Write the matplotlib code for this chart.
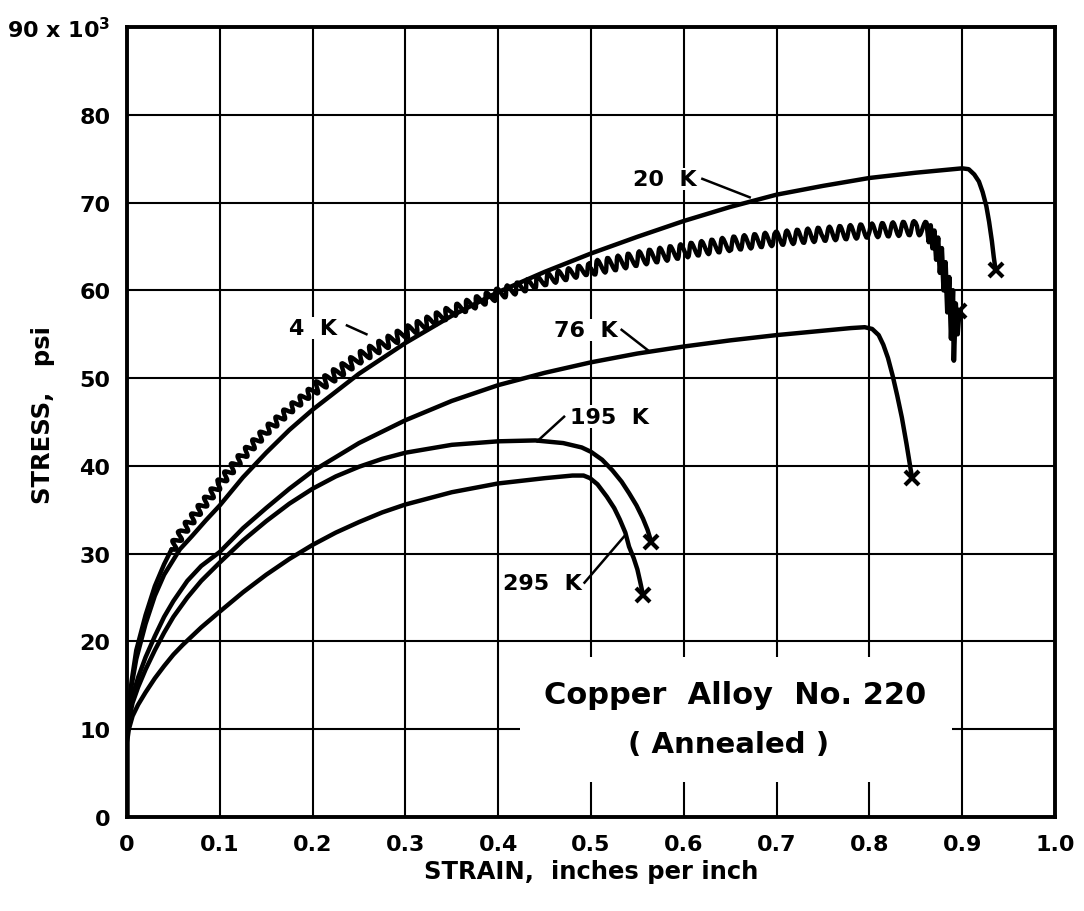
import numpy as np
import matplotlib.pyplot as plt
from matplotlib.patches import Rectangle

plt.rcParams['font.family'] = ['DejaVu Sans']
plt.rcParams['font.weight'] = 'bold'
plt.rcParams['axes.labelweight'] = 'bold'
plt.rcParams['mathtext.default'] = 'bf'

# curves (strain, stress in ksi)
x_295 = [0, 0, 0.002, 0.006, 0.012, 0.02, 0.03, 0.04, 0.05, 0.06, 0.08, 0.1, 0.125, 0.15, 0.175,
         0.2, 0.225, 0.25, 0.275, 0.3, 0.35, 0.4, 0.45, 0.48, 0.492,
         0.499, 0.507, 0.517, 0.525, 0.531, 0.537, 0.541, 0.546, 0.55, 0.553, 0.556]
y_295 = [0, 8.5, 10, 11.5, 12.8, 14.2, 15.8, 17.2, 18.5, 19.6, 21.6, 23.4, 25.6, 27.6, 29.4,
         31.0, 32.4, 33.6, 34.7, 35.6, 37.0, 38.0, 38.6, 38.9, 38.9,
         38.6, 37.9, 36.5, 35.2, 33.9, 32.4, 30.8, 29.5, 28.2, 26.8, 25.3]

x_195 = [0, 0, 0.002, 0.006, 0.012, 0.02, 0.03, 0.04, 0.05, 0.065, 0.08, 0.1, 0.125, 0.15, 0.175,
         0.2, 0.225, 0.25, 0.275, 0.3, 0.35, 0.4, 0.44, 0.47, 0.49,
         0.5, 0.512, 0.523, 0.533, 0.541, 0.549, 0.556, 0.561, 0.565]
y_195 = [0, 9, 11, 13, 14.8, 16.8, 19, 21, 22.8, 25, 26.9, 29.0, 31.5, 33.7, 35.7,
         37.4, 38.8, 39.9, 40.8, 41.5, 42.4, 42.8, 42.9, 42.6, 42.1,
         41.6, 40.7, 39.5, 38.2, 36.9, 35.5, 34.0, 32.7, 31.3]

x_76 = [0, 0, 0.002, 0.006, 0.012, 0.02, 0.03, 0.04, 0.05, 0.065, 0.08, 0.1, 0.125, 0.15, 0.175,
        0.2, 0.25, 0.3, 0.35, 0.4, 0.45, 0.5, 0.55, 0.6, 0.65, 0.7, 0.75, 0.78, 0.795,
        0.803, 0.81, 0.815, 0.82, 0.825, 0.83, 0.835, 0.84, 0.846]
y_76 = [0, 9, 11.5, 13.8, 15.9, 18.2, 20.6, 22.8, 24.6, 26.9, 28.6, 30.2, 32.9, 35.2, 37.4,
        39.4, 42.6, 45.2, 47.4, 49.2, 50.6, 51.8, 52.8, 53.6, 54.3, 54.9, 55.4, 55.7, 55.8,
        55.6, 54.9, 53.8, 52.3, 50.3, 48.0, 45.5, 42.5, 38.6]

x_20 = [0, 0, 0.002, 0.005, 0.01, 0.02, 0.03, 0.04, 0.057, 0.07, 0.085, 0.1, 0.125, 0.15, 0.175,
        0.2, 0.25, 0.3, 0.35, 0.4, 0.45, 0.5, 0.55, 0.6, 0.65, 0.7, 0.75, 0.8, 0.85, 0.89,
        0.9, 0.907, 0.913, 0.918, 0.922, 0.926, 0.929, 0.932, 0.934, 0.936]
y_20 = [0, 9, 12.5, 15, 18, 22, 25.2, 27.6, 30.5, 32.0, 33.8, 35.5, 38.7, 41.5, 44.1,
        46.4, 50.5, 54.0, 57.1, 59.8, 62.1, 64.2, 66.1, 67.9, 69.5, 70.9, 71.9, 72.8, 73.4, 73.8,
        73.9, 73.8, 73.2, 72.4, 71.2, 69.6, 67.8, 65.6, 63.8, 62.3]

# 4 K: smooth start, serrated middle (centre line), jagged drop at the end
x_4a = [0, 0, 0.002, 0.005, 0.01, 0.02, 0.03, 0.04, 0.048]
y_4a = [0, 9, 12.5, 15.5, 19, 23, 26.3, 28.8, 30.5]
x_4b = [0.048, 0.06, 0.075, 0.1, 0.125, 0.15, 0.175, 0.2]
y_4b = [30.5, 32.5, 34.6, 38.0, 41.2, 44.0, 46.4, 48.6]
x_4c = [0.2, 0.25, 0.3, 0.35, 0.4, 0.45, 0.5]
y_4c = [48.6, 52.3, 55.2, 57.6, 59.6, 61.2, 62.5]
x_4d = [0.5, 0.55, 0.6, 0.65, 0.7, 0.75, 0.8, 0.85, 0.862]
y_4d = [62.5, 63.6, 64.5, 65.3, 65.9, 66.4, 66.8, 67.1, 67.0]
x_4e = [0.862, 0.864, 0.866, 0.868, 0.870, 0.872, 0.874, 0.876, 0.878, 0.880, 0.882, 0.884,
        0.886, 0.888, 0.890, 0.891, 0.893, 0.895, 0.897]
y_4e = [67.3, 65.5, 67.4, 64.8, 66.8, 63.5, 66.0, 62.0, 64.8, 60.0, 63.2, 57.5,
        61.5, 54.5, 60.0, 52.0, 58.5, 55.0, 57.7]

labels = ['4  K', '20  K', '76  K', '195  K', '295  K']
label_pos = [(0.2, 55.7), (0.58, 72.7), (0.494, 55.5), (0.52, 45.6), (0.448, 26.7)]
leaders = [((0.237, 56.0), (0.258, 55.0)),
           ((0.620, 72.7), (0.671, 70.6)),
           ((0.533, 55.5), (0.561, 53.2)),
           ((0.471, 45.6), (0.442, 42.8)),
           ((0.493, 26.7), (0.536, 32.0))]

xticks = [0, 0.1, 0.2, 0.3, 0.4, 0.5, 0.6, 0.7, 0.8, 0.9, 1.0]
xtick_labels = ['0', '0.1', '0.2', '0.3', '0.4', '0.5', '0.6', '0.7', '0.8', '0.9', '1.0']
yticks = [0, 10, 20, 30, 40, 50, 60, 70, 80, 90]
ytick_labels = ['0', '10', '20', '30', '40', '50', '60', '70', '80', r'90 x 10$^{3}$']

fig = plt.figure(figsize=(10.84, 9.12), dpi=100)
ax = fig.add_axes([127 / 1084, 94 / 912, 928 / 1084, 790 / 912])
ax.set_xlim(0, 1.0)
ax.set_ylim(0, 90)
ax.set_axisbelow(True)
ax.grid(True, color='black', lw=1.5)
for s in ax.spines.values():
    s.set_linewidth(2.8)
ax.set_xticks(xticks)
ax.set_xticklabels(xtick_labels)
ax.set_yticks(yticks)
ax.set_yticklabels(ytick_labels)
ax.tick_params(length=0, pad=12, labelsize=16)
ax.set_xlabel('STRAIN,  inches per inch', fontsize=17.5, labelpad=4)
ax.set_ylabel('STRESS,   psi', fontsize=17.5)
ax.yaxis.set_label_coords(-0.078, 0.51)

lw = 3.2
for xs, ys in [(x_295, y_295), (x_195, y_195), (x_76, y_76), (x_20, y_20)]:
    ax.plot(xs, ys, color='black', lw=lw, solid_capstyle='round', solid_joinstyle='round', zorder=4)
    ax.plot(xs[-1], ys[-1], marker='x', ms=10, mew=3, color='black', zorder=5)

ax.plot(x_4a, y_4a, color='black', lw=lw, solid_capstyle='round', solid_joinstyle='round', zorder=4)
for xs, ys, amp in [(x_4b, y_4b, 4), (x_4c, y_4c, 5.5), (x_4d, y_4d, 7)]:
    serr, = ax.plot(xs, ys, color='black', lw=lw, solid_capstyle='round', zorder=4)
    serr.set_sketch_params(scale=amp, length=10.5, randomness=1)
ax.plot(x_4e, y_4e, color='black', lw=3.4, solid_joinstyle='round', zorder=4)
ax.plot(x_4e[-1], y_4e[-1], marker='x', ms=10, mew=3, color='black', zorder=5)

for txt, (lx, ly) in zip(labels, label_pos):
    ax.text(lx, ly, txt, fontsize=16, ha='center', va='center', zorder=3,
            bbox=dict(facecolor='white', edgecolor='none', pad=1))
for (a, b) in leaders:
    ax.plot([a[0], b[0]], [a[1], b[1]], color='black', lw=1.8, zorder=4)

ax.add_patch(Rectangle((0.423, 4.0), 0.466, 14.2, facecolor='white', edgecolor='none', zorder=1))
ax.text(0.655, 14.0, 'Copper  Alloy  No. 220', fontsize=22, ha='center', va='center', zorder=3)
ax.text(0.648, 8.3, '( Annealed )', fontsize=21, ha='center', va='center', zorder=3)

fig.savefig('out.png', dpi=100)
